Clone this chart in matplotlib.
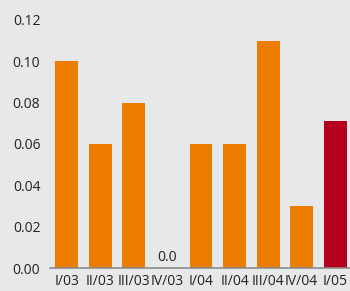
import matplotlib
matplotlib.use('Agg')
import matplotlib.pyplot as plt

# 季度数据
quarters = ['I/03', 'II/03', 'III/03', 'IV/03', 'I/04', 'II/04', 'III/04', 'IV/04', 'I/05']
values = [0.10, 0.06, 0.08, 0.0, 0.06, 0.06, 0.11, 0.03, 0.071]
colors = ['#EC7C00'] * 8 + ['#B5001E']
yticks = [0.00, 0.02, 0.04, 0.06, 0.08, 0.10, 0.12]

plt.rcParams['font.family'] = ['Open Sans', 'DejaVu Sans']
bg = '#E7E8EA'

fig = plt.figure(figsize=(3.5, 2.91), dpi=100, facecolor=bg)
ax = fig.add_axes([50/350, 23/291, 302/350, 258/291], facecolor=bg)
x = range(len(quarters))
ax.bar(x, values, width=0.685, color=colors)
ax.set_xlim(-0.5, 8.5)
ax.set_ylim(0, 0.1248)
ax.set_yticks(yticks)
ax.set_yticklabels(['%.2f' % v for v in yticks])
ax.set_xticks(list(x))
ax.set_xticklabels(quarters)
ax.tick_params(length=0, labelsize=10, colors='#222222')
ax.tick_params(axis='y', pad=7)
ax.tick_params(axis='x', pad=4.5)
for s in ['top', 'right', 'left']:
    ax.spines[s].set_visible(False)
ax.spines['bottom'].set_color('#8C8C8C')
ax.spines['bottom'].set_linewidth(1.2)
# 零值标注
ax.text(3, 0.0015, '0.0', ha='center', va='bottom', fontsize=10, color='#222222')

plt.savefig('out.png', dpi=100, facecolor=bg)
